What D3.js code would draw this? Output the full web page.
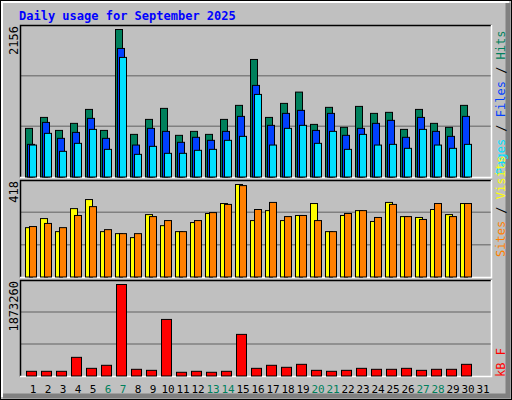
<!DOCTYPE html>
<html>
<head>
<meta charset="utf-8">
<script src="https://cdn.jsdelivr.net/npm/d3@7"></script>
<style>
  body { margin: 0; background: #fff; }
  text { font-family: "DejaVu Sans Mono", monospace; }
</style>
</head>
<body>
<div id="chart"></div>
<script>
// daily values, September 2025 (day 31 empty)
const days = d3.range(1, 32);
const weekend = [6, 7, 13, 14, 20, 21, 27, 28];
const hits = [711, 871, 681, 784, 988, 681, 2156, 623, 842, 1003, 609, 667, 623, 842, 1047, 1718,
  871, 1076, 1241, 769, 1018, 726, 1032, 930, 945, 696, 988, 784, 726, 1047, 0];
const files = [477, 798, 565, 652, 857, 565, 1879, 467, 711, 667, 507, 580, 536, 667, 886, 1339,
  755, 930, 974, 681, 930, 609, 711, 784, 828, 580, 871, 667, 594, 886, 0];
const pages = [467, 638, 375, 492, 696, 404, 1748, 331, 448, 346, 346, 390, 404, 536, 594, 1207,
  467, 711, 755, 492, 667, 404, 623, 467, 477, 419, 696, 467, 419, 477, 0];
const visits = [223, 264, 205, 309, 350, 205, 196, 178, 282, 232, 205, 246, 287, 332, 418, 255,
  300, 255, 278, 332, 205, 278, 300, 251, 337, 273, 269, 305, 282, 332, 0];
const sites = [228, 242, 223, 278, 318, 214, 196, 196, 273, 255, 205, 255, 291, 328, 413, 305,
  337, 273, 278, 255, 205, 287, 300, 269, 328, 273, 260, 332, 273, 332, 0];
const kbytes = [96000, 96000, 96000, 382000, 157000, 219000, 1873260, 137000, 116000, 1158000, 76000, 96000,
  76000, 96000, 852000, 157000, 219000, 178000, 239000, 116000, 96000, 116000, 157000, 137000, 137000,
  157000, 116000, 137000, 137000, 239000, 0];

const W = 512, H = 400;
const svg = d3.select("#chart").append("svg").attr("width", W).attr("height", H);

// frame with bevel
svg.append("rect").attr("width", W).attr("height", H).attr("fill", "#c0c0c0");
svg.append("rect").attr("x", 0.5).attr("y", 0.5).attr("width", W - 1).attr("height", H - 1)
  .attr("fill", "none").attr("stroke", "#000");
svg.append("path").attr("d", `M2,${H - 3} V2 H${W - 3}`).attr("fill", "none").attr("stroke", "#fff").attr("stroke-width", 2);
svg.append("path").attr("d", `M${W - 4},3 V${H - 4} H3`).attr("fill", "none").attr("stroke", "#808080").attr("stroke-width", 5);

svg.append("text").attr("x", 19).attr("y", 20)
  .attr("fill", "#0000ff").attr("font-weight", "bold").attr("font-size", 12)
  .text("Daily usage for September 2025");

const x = d3.scaleBand().domain(days).range([25, 490]).paddingInner(0).paddingOuter(0);
// day x positions: 15px per day starting at 25
const dx = d => 25 + (d - 1) * 15;

function panel(top, bottom, max, label) {
  const g = svg.append("g");
  const y = d3.scaleLinear().domain([0, max]).range([bottom, top + 4.5]);
  [1, 2].forEach(i => {
    const yy = bottom - (bottom - top) * i / 3;
    g.append("line").attr("x1", 21).attr("x2", 491).attr("y1", yy).attr("y2", yy)
      .attr("stroke", "#808080").attr("stroke-width", 1.5);
  });
  g.append("path").attr("d", `M20.5,${bottom + 0.5} V${top + 0.5} H491.5`).attr("fill", "none").attr("stroke", "#000").attr("stroke-width", 1.5);
  g.append("path").attr("d", `M491.5,${top} V${bottom + 0.5} H20`).attr("fill", "none").attr("stroke", "#fff").attr("stroke-width", 1.5);
  g.append("text").attr("transform", `translate(18,${top + 1}) rotate(-90)`)
    .attr("text-anchor", "end").attr("font-size", 12).attr("fill", "#000").text(label);
  return y;
}

function bars(y, data, offset, width, color) {
  svg.append("g").selectAll("rect").data(data).join("rect")
    .filter(d => d > 0)
    .attr("x", (d, i) => dx(i + 1) + offset + 0.5)
    .attr("y", d => y(d))
    .attr("width", width)
    .attr("height", d => y(0) - y(d))
    .attr("fill", color).attr("stroke", "#000").attr("stroke-width", 1);
}

const y1 = panel(25, 177, 2156, "2156");
bars(y1, hits, 0, 7, "#00805c");
bars(y1, files, 2, 7, "#0040ff");
bars(y1, pages, 4, 7, "#00e0ff");

const y2 = panel(180, 277, 418, "418");
bars(y2, visits, 0, 7, "#ffff00");
bars(y2, sites, 4, 7, "#ff8000");

const y3 = panel(280, 376, 1873260, "1873260");
bars(y3, kbytes, 1, 10, "#ff0000");

// right side legends (bottom to top)
function legend(yBottom, parts) {
  const t = svg.append("text").attr("transform", `translate(505,${yBottom}) rotate(-90)`)
    .attr("font-size", 12);
  parts.forEach(p => t.append("tspan").attr("fill", p[1]).text(p[0]));
}
legend(175, [["Pages", "#00e0ff"], [" / ", "#000"], ["Files", "#0040ff"], [" / ", "#000"], ["Hits", "#00805c"]]);
legend(257, [["Sites", "#ff8000"], [" / ", "#000"], ["Visits", "#ffff00"]]);
legend(377, [["kB F", "#ff0000"]]);

// day labels
svg.append("g").selectAll("text").data(days).join("text")
  .attr("x", d => dx(d) + 8).attr("y", 393)
  .attr("text-anchor", "middle").attr("font-size", 11)
  .attr("font-family", "DejaVu Sans")
  .attr("fill", d => weekend.includes(d) ? "#00805c" : "#000")
  .text(d => d);
</script>
</body>
</html>
